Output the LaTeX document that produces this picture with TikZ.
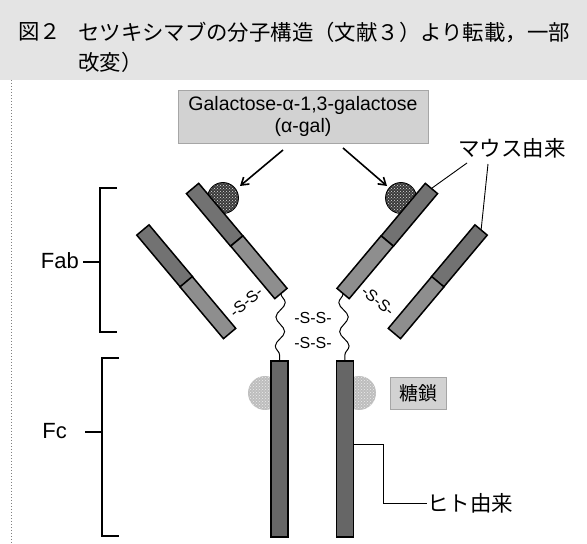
\documentclass[tikz,border=0pt]{standalone}
\usepackage{fontspec}
\setmainfont{Liberation Sans}
\newfontfamily\jp{Noto Sans CJK JP}
\usetikzlibrary{calc,patterns,decorations.pathmorphing,arrows.meta}
\definecolor{bandgray}{HTML}{E4E4E4}
\definecolor{boxgray}{HTML}{D2D2D2}
\definecolor{vdark}{HTML}{727272}
\definecolor{clight}{HTML}{8E8E8E}
\definecolor{fcgray}{HTML}{666666}
\definecolor{galgray}{HTML}{3A3A3A}
\definecolor{sugargray}{HTML}{BDBDBD}
\begin{document}
\begin{tikzpicture}[x=1pt,y=1pt,
  seg/.style={draw=black, line width=1.5pt, minimum height=16pt, inner sep=0pt, outer sep=0pt},
  fcbar/.style={draw=black, line width=1.5pt, fill=fcgray, minimum width=17pt, minimum height=176pt, inner sep=0pt, outer sep=0pt},
  galdot/.style={draw=black, line width=0.8pt, preaction={fill=galgray}, pattern=crosshatch dots, pattern color=white!75!gray},
  sugar/.style={preaction={fill=sugargray}, pattern=crosshatch dots, pattern color=white!85!gray},
  hinge/.style={line width=1pt, decorate, decoration={snake, amplitude=4.5pt, segment length=29pt}},
  label/.style={line width=0.9pt},
  bracket/.style={line width=1.6pt},
  ss/.style={font=\fontsize{16}{18}\selectfont, inner sep=0pt},
  jplabel/.style={font=\jp\fontsize{21.5}{24}\selectfont, inner sep=0pt},
  jptitle/.style={font=\jp\fontsize{21.4}{24}\selectfont, inner sep=0pt, anchor=west},
  latin/.style={font=\fontsize{22}{24}\selectfont, inner sep=0pt},
  greybox/.style={fill=boxgray, draw=gray!70, line width=0.6pt, inner sep=0pt},
  tip/.style={-{Straight Barb[length=7pt,width=9pt]}, line width=1.6pt}
]
\useasboundingbox (0,0) rectangle (587,544);

% title band
\fill[bandgray] (0,464) rectangle (587,544);
\node[jptitle] (fignum) at (18,512) {図２};
\node[jptitle] (title1) at (78,512) {セツキシマブの分子構造（文献３）より転載，一部};
\node[jptitle] (title2) at (78,482) {改変）};

% frame edge on the left
\draw[gray, dotted, line width=1pt] (11,464) -- (11,0);

% alpha-gal epitopes (behind the heavy chains)
\node[galdot, circle, minimum size=31pt, inner sep=0pt] (galL) at (223,346) {};
\node[galdot, circle, minimum size=31pt, inner sep=0pt] (galR) at (401,346) {};

% carbohydrate chains on Fc (behind the Fc bars)
\node[sugar, circle, minimum size=34pt, inner sep=0pt] (sugL) at (265,151) {};
\node[sugar, circle, minimum size=34pt, inner sep=0pt] (sugR) at (359,151) {};

% bar end points
\coordinate (lo1) at (143,314);   \coordinate (lo2) at (229.5,210.5);
\coordinate (li1) at (192.5,355.5); \coordinate (li2) at (281,250.5);
\coordinate (ri1) at (431.5,355.5); \coordinate (ri2) at (343,250.5);
\coordinate (ro1) at (481,314);   \coordinate (ro2) at (394.5,210.5);

% light chains (outer) and heavy chains (inner) of the Fab arms
\node[seg, fill=vdark,  minimum width=67.6pt, rotate=-50] (lvl) at ($(lo1)!0.25!(lo2)$) {};
\node[seg, fill=clight, minimum width=67.6pt, rotate=-50] (lcl) at ($(lo1)!0.75!(lo2)$) {};
\node[seg, fill=vdark,  minimum width=68.6pt, rotate=-50] (lvh) at ($(li1)!0.25!(li2)$) {};
\node[seg, fill=clight, minimum width=68.6pt, rotate=-50] (lch) at ($(li1)!0.75!(li2)$) {};
\node[seg, fill=vdark,  minimum width=68.6pt, rotate=230] (rvh) at ($(ri1)!0.25!(ri2)$) {};
\node[seg, fill=clight, minimum width=68.6pt, rotate=230] (rch) at ($(ri1)!0.75!(ri2)$) {};
\node[seg, fill=vdark,  minimum width=67.6pt, rotate=230] (rvl) at ($(ro1)!0.25!(ro2)$) {};
\node[seg, fill=clight, minimum width=67.6pt, rotate=230] (rcl) at ($(ro1)!0.75!(ro2)$) {};

% Fc heavy chains
\node[fcbar] (lfc) at (279.5,95) {};
\node[fcbar] (rfc) at (345,95) {};

% hinge regions
\draw[hinge] (lch.east) -- (lfc.north);
\draw[hinge, decoration={mirror}] (rch.east) -- (rfc.north);

% disulfide bonds
\node[ss] (ssA) at (313,226) {-S-S-};
\node[ss] (ssB) at (313,201) {-S-S-};
\node[ss, rotate=40] (ssL) at (246,242) {-S-S-};
\node[ss, rotate=-40] (ssR) at (378,243) {-S-S-};

% alpha-gal label and arrows
\node[greybox, minimum width=250pt, minimum height=53pt, align=center,
      font=\fontsize{19.5}{22}\selectfont] (gal) at (303,427.5)
      {Galactose-α-1,3-galactose\\(α-gal)};
\coordinate (a1s) at (283,394); \coordinate (a1e) at (240,358);
\coordinate (a2s) at (343,396); \coordinate (a2e) at (387,358);
\draw[tip] (a1s) -- (a1e);
\draw[tip] (a2s) -- (a2e);

% mouse-derived label
\node[jplabel] (mouse) at (512,396) {マウス由来};
\coordinate (m1) at (467,381);
\coordinate (m2) at (488,380);
\draw[label] (m1) -- (rvh.west);
\draw[label] (m2) -- (rvl.west);

% sugar chain label
\node[greybox, minimum width=56pt, minimum height=32pt,
      font=\jp\fontsize{19}{22}\selectfont] (sugar) at (418,151) {糖鎖};

% human-derived label
\node[jplabel, anchor=west] (human) at (427,41) {ヒト由来};
\coordinate (h1) at (383,100);
\draw[label] (h1 -| rfc.east) -- (h1) |- (human.west);

% Fab and Fc brackets
\node[latin, anchor=east] (fab) at (79,283) {Fab};
\draw[bracket] (117,356) -- (100,356) -- (100,212) -- (117,212);
\coordinate (fabt) at (100,282);
\draw[bracket] (fab.east |- fabt) ++(4,0) -- (fabt);

\node[latin, anchor=east] (fc) at (67,113) {Fc};
\draw[bracket] (119,186) -- (102,186) -- (102,8) -- (119,8);
\coordinate (fct) at (102,112);
\draw[bracket] (85,112) -- (fct);
\end{tikzpicture}
\end{document}
